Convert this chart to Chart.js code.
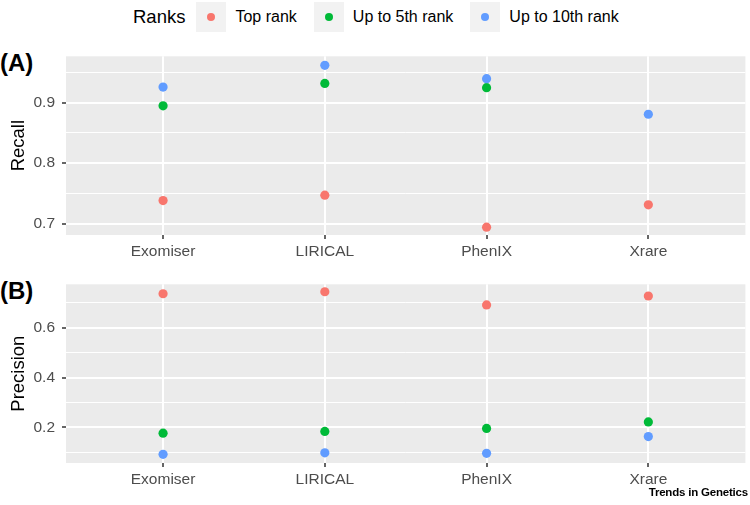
<!DOCTYPE html>
<html lang="en">

<head>
  <meta charset="UTF-8" />
  <script src="https://cdn.jsdelivr.net/npm/chart.js"></script>
  <title>Recall and precision by rank</title>
  <style>
    body { margin: 0; background: #fff; font-family: "Liberation Sans", Arial, sans-serif; }
    #wrap { position: relative; width: 750px; height: 505px; overflow: hidden; }
    canvas { position: absolute; left: 0; }
    #legend { position: absolute; top: 2px; left: 133px; display: flex; align-items: center; height: 30px; }
    #legend .title { font-size: 18.5px; color: #000; margin-right: 11px; }
    #legend .key { width: 30px; height: 30px; background: #F2F2F2; display: flex; align-items: center; justify-content: center; }
    #legend .dot { width: 8px; height: 8px; border-radius: 50%; }
    #legend .lab { font-size: 16px; color: #000; margin-left: 9px; margin-right: 17px; }
    .tag { position: absolute; left: 0; font-weight: bold; font-size: 24px; line-height: 24px; }
    #credit { position: absolute; right: 2px; top: 486px; font-weight: bold; font-size: 11.5px; letter-spacing: -0.2px; }
  </style>
</head>

<body>
  <div id="wrap">
    <div id="legend"><span class="title">Ranks</span></div>
    <div class="tag" style="top:51px">(A)</div>
    <div class="tag" style="top:279px">(B)</div>
    <canvas id="recallChart" width="750" height="225" style="top:40px"></canvas>
    <canvas id="precisionChart" width="750" height="225" style="top:268px"></canvas>
    <div id="credit">Trends in Genetics</div>
  </div>

  <script>
    // data
    const methods = ['Exomiser', 'LIRICAL', 'PhenIX', 'Xrare'];
    const rankNames = ['Top rank', 'Up to 5th rank', 'Up to 10th rank'];
    const rankColors = ['#F8766D', '#00BA38', '#619CFF'];

    const recallTop = [0.738, 0.747, 0.694, 0.731];
    const recallTop5 = [0.895, 0.932, 0.925, null];
    const recallTop10 = [0.926, 0.962, 0.940, 0.881];

    const precisionTop = [0.737, 0.745, 0.692, 0.728];
    const precisionTop5 = [0.177, 0.184, 0.196, 0.222];
    const precisionTop10 = [0.092, 0.098, 0.096, 0.163];

    const recallTicks = [0.7, 0.8, 0.9];
    const recallMinor = [0.75, 0.85, 0.95];
    const precisionTicks = [0.2, 0.4, 0.6];
    const precisionMinor = [0.1, 0.3, 0.5, 0.7];

    // legend
    const legend = document.getElementById('legend');
    rankNames.forEach(function (name, i) {
      const key = document.createElement('span');
      key.className = 'key';
      key.innerHTML = '<span class="dot" style="background:' + rankColors[i] + '"></span>';
      const lab = document.createElement('span');
      lab.className = 'lab';
      lab.textContent = name;
      legend.appendChild(key);
      legend.appendChild(lab);
    });

    const panelBg = {
      id: 'panelBg',
      beforeDraw(chart) {
        const a = chart.chartArea;
        const c = chart.ctx;
        c.save();
        c.fillStyle = '#EBEBEB';
        c.fillRect(a.left, a.top, a.right - a.left, a.bottom - a.top);
        c.restore();
      }
    };

    function isMajor(v, majors) {
      return majors.some(m => Math.abs(m - v) < 1e-6);
    }

    function makeChart(id, series, yTitle, yMin, yMax, majors, minors) {
      const datasets = series.map(function (vals, i) {
        return {
          label: rankNames[i],
          data: vals.map((v, j) => ({ x: j, y: v })),
          backgroundColor: rankColors[i],
          borderWidth: 0,
          pointRadius: 4.6,
          order: series.length - i
        };
      });
      const gridVals = majors.concat(minors).sort((a, b) => a - b);
      return new Chart(document.getElementById(id), {
        type: 'scatter',
        data: { datasets: datasets },
        plugins: [panelBg],
        options: {
          responsive: false,
          animation: false,
          layout: { padding: { top: 10, right: 2, left: 0, bottom: 0 } },
          plugins: { legend: { display: false }, tooltip: { enabled: false } },
          scales: {
            x: {
              type: 'linear',
              min: -0.6,
              max: methods.length - 1 + 0.6,
              afterBuildTicks: s => { s.ticks = methods.map((m, i) => ({ value: i })); },
              afterFit: s => { s.height = 30; },
              border: { display: false },
              grid: { color: '#FFFFFF', lineWidth: 2, tickLength: 4, tickColor: '#333333', tickWidth: 1.5 },
              ticks: {
                callback: v => methods[v],
                color: '#4D4D4D',
                font: { family: '"Liberation Sans", Arial, sans-serif', size: 15.5 },
                padding: 3,
                maxRotation: 0,
                autoSkip: false
              }
            },
            y: {
              min: yMin,
              max: yMax,
              afterBuildTicks: s => { s.ticks = gridVals.map(v => ({ value: v })); },
              afterFit: s => { s.width = 66; },
              border: { display: false },
              grid: {
                color: '#FFFFFF',
                lineWidth: c => isMajor(c.tick.value, majors) ? 2 : 1,
                tickLength: 4,
                tickWidth: 1.5,
                tickColor: c => isMajor(c.tick.value, majors) ? '#333333' : 'rgba(0,0,0,0)'
              },
              ticks: {
                callback: v => isMajor(v, majors) ? v.toFixed(1) : '',
                color: '#4D4D4D',
                font: { family: '"Liberation Sans", Arial, sans-serif', size: 15.5 },
                padding: 7,
                autoSkip: false
              },
              title: {
                display: true,
                text: yTitle,
                color: '#000000',
                font: { family: '"Liberation Sans", Arial, sans-serif', size: 18.5 },
                padding: { top: 8, bottom: 0 }
              }
            }
          }
        }
      });
    }

    makeChart('recallChart', [recallTop, recallTop5, recallTop10], 'Recall', 0.681, 0.977, recallTicks, recallMinor);
    makeChart('precisionChart', [precisionTop, precisionTop5, precisionTop10], 'Precision', 0.057, 0.775, precisionTicks, precisionMinor);
  </script>
</body>

</html>
